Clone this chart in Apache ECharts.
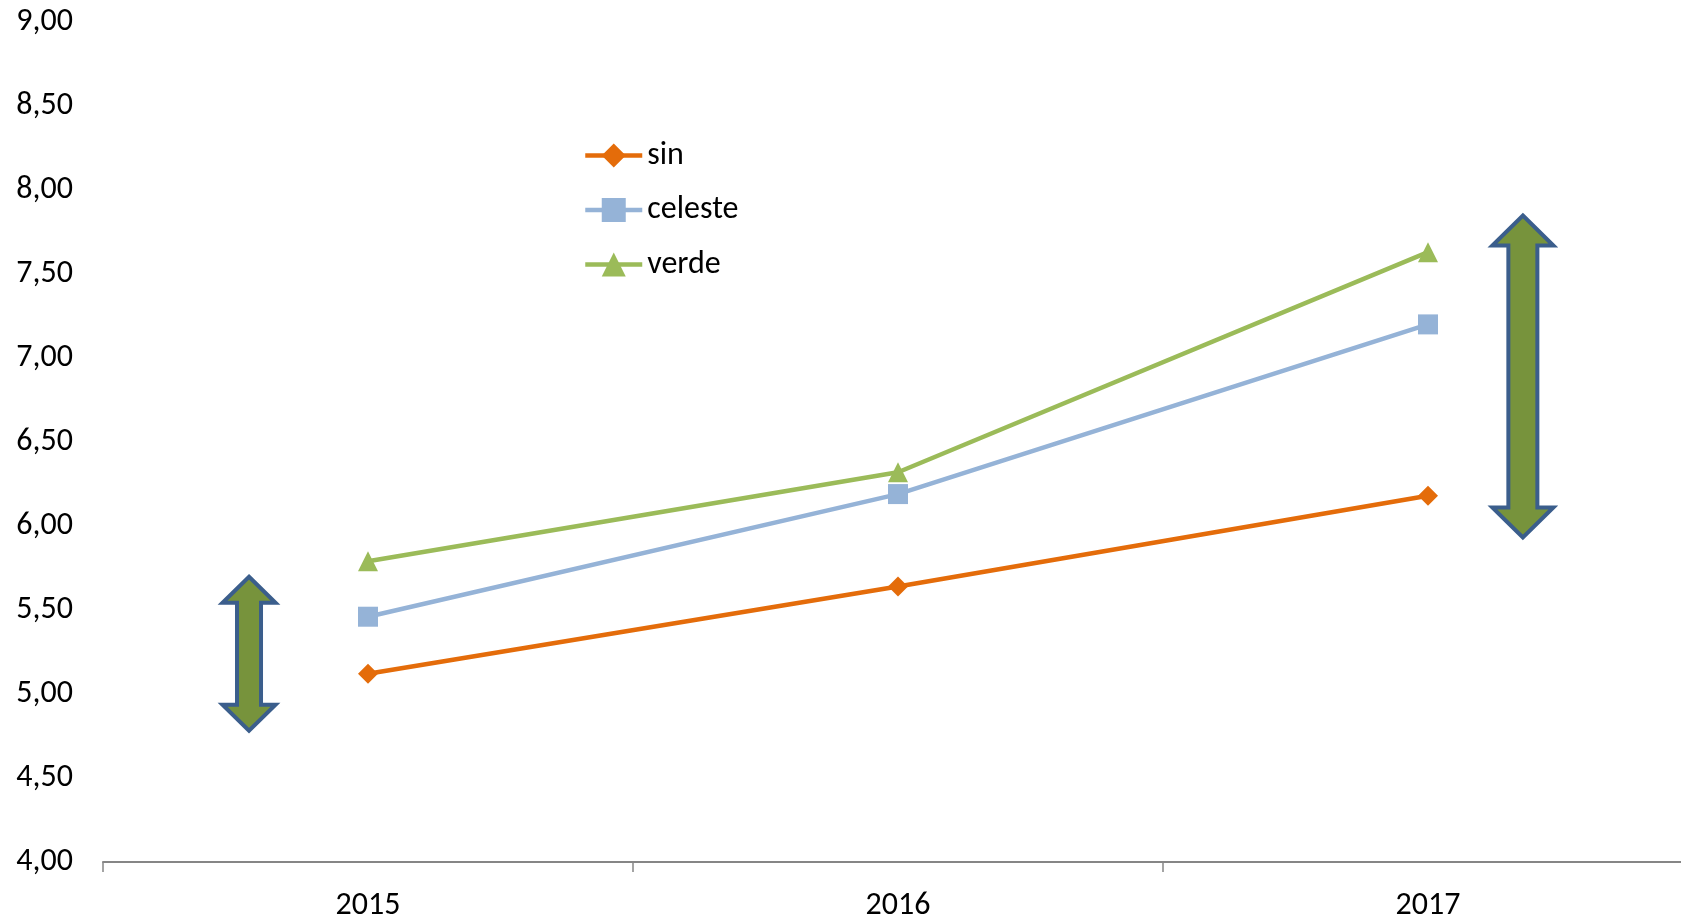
<!DOCTYPE html>
<html>
<head>
<meta charset="utf-8">
<script src="https://cdn.jsdelivr.net/npm/echarts@6/dist/echarts.min.js"></script>
<style>
html,body{margin:0;padding:0;background:#fff;overflow:hidden;}
#chart{width:1681px;height:920px;}
</style>
</head>
<body>
<div id="chart"></div>
<script>
// ---- data ----
var categories = ['2015', '2016', '2017'];
var sinValues = [5.12, 5.64, 6.18];
var celesteValues = [5.46, 6.19, 7.20];
var verdeValues = [5.79, 6.32, 7.63];
var yMin = 4, yMax = 9, yStep = 0.5;
// annotation arrows: [category index, low value, high value]
var arrowRanges = [[0, 4.77, 5.71], [2, 5.92, 7.86]];

// ---- styles ----
var FONT = 'Carlito, Lato, "Open Sans", sans-serif';
var arrowShapes = [
  {dx: -0.2245, head: 53, shaft: 24, headLen: 26},
  {dx: 0.179, head: 61, shaft: 29, headLen: 30}
];

function fmt(v) { return v.toFixed(2).replace('.', ','); }

var chart = echarts.init(document.getElementById('chart'), null, {renderer: 'canvas'});

var option = {
  animation: false,
  backgroundColor: '#ffffff',
  grid: {left: 103, top: 22, width: 1590, bottom: 58, containLabel: false, outerBoundsMode: 'none'},
  legend: {
    data: ['sin', 'celeste', 'verde'],
    orient: 'vertical',
    left: 583,
    top: 139.5,
    padding: 0,
    itemWidth: 57,
    itemHeight: 30,
    itemGap: 22.5,
    lineStyle: {width: 4.5},
    textStyle: {fontFamily: FONT, fontSize: 32, color: '#000', lineHeight: 32}
  },
  xAxis: {
    type: 'category',
    data: categories,
    boundaryGap: true,
    axisLine: {lineStyle: {color: '#868686', width: 2}},
    axisTick: {show: true, length: 10, lineStyle: {color: '#868686', width: 1.5}},
    axisLabel: {fontFamily: FONT, fontSize: 32, color: '#000', margin: 28},
    splitLine: {show: false}
  },
  yAxis: {
    type: 'value',
    min: yMin, max: yMax, interval: yStep,
    axisLine: {show: false},
    axisTick: {show: false},
    splitLine: {show: false},
    axisLabel: {fontFamily: FONT, fontSize: 32, color: '#000', margin: 30, formatter: fmt}
  },
  series: [
    {
      name: 'sin', type: 'line', data: sinValues,
      symbol: 'diamond', symbolSize: 20,
      lineStyle: {color: '#E46C0A', width: 4.5},
      itemStyle: {color: '#E46C0A'}
    },
    {
      name: 'celeste', type: 'line', data: celesteValues,
      symbol: 'rect', symbolSize: 20,
      lineStyle: {color: '#95B3D7', width: 4.5},
      itemStyle: {color: '#95B3D7'}
    },
    {
      name: 'verde', type: 'line', data: verdeValues,
      symbol: 'triangle', symbolSize: 20,
      lineStyle: {color: '#9BBB59', width: 4.5},
      itemStyle: {color: '#9BBB59'}
    },
    {
      name: 'arrows', type: 'custom',
      data: arrowRanges,
      encode: {x: 0, y: [1, 2]},
      silent: true,
      clip: false,
      renderItem: function (params, api) {
        var s = arrowShapes[params.dataIndex];
        var band = api.size([1, 0])[0];
        var top = api.coord([api.value(0), api.value(2)]);
        var bot = api.coord([api.value(0), api.value(1)]);
        var cx = top[0] + s.dx * band;
        var y1 = top[1] + 2, y2 = bot[1] - 2;
        var hw = s.head / 2, sw = s.shaft / 2, hl = s.headLen;
        var pts = [
          [cx, y1], [cx + hw, y1 + hl], [cx + sw, y1 + hl], [cx + sw, y2 - hl],
          [cx + hw, y2 - hl], [cx, y2], [cx - hw, y2 - hl], [cx - sw, y2 - hl],
          [cx - sw, y1 + hl], [cx - hw, y1 + hl]
        ];
        return {
          type: 'polygon',
          shape: {points: pts},
          style: {fill: '#77933C', stroke: '#3B5E8C', lineWidth: 4, lineJoin: 'miter'}
        };
      },
      z: 5
    }
  ]
};
chart.setOption(option);
</script>
</body>
</html>
